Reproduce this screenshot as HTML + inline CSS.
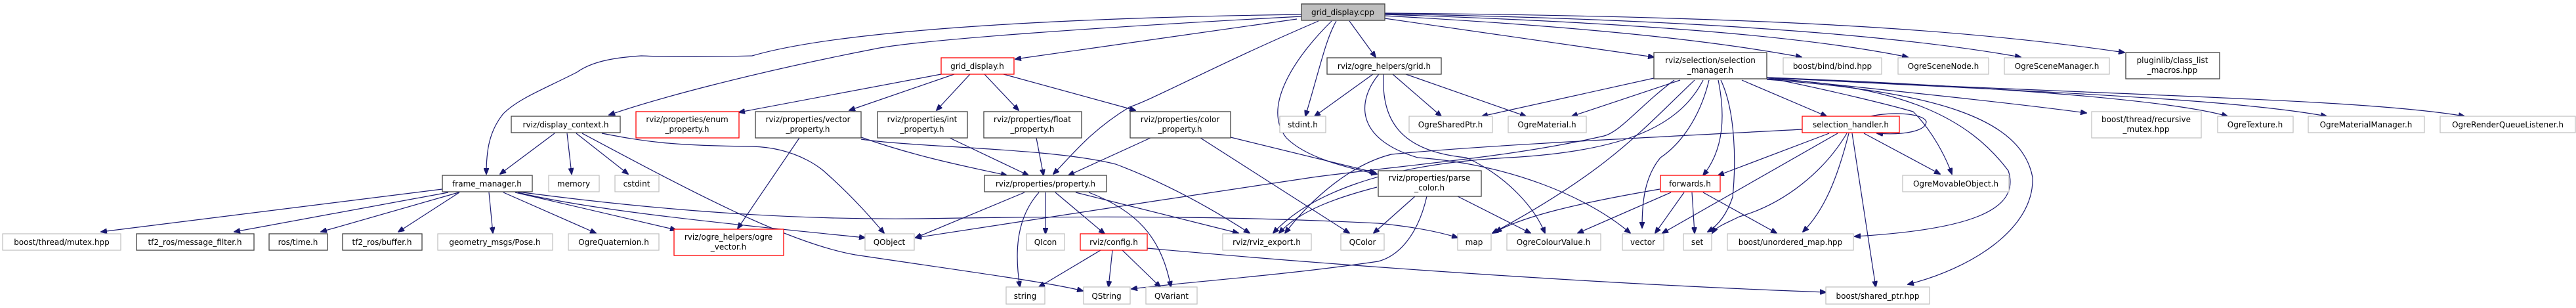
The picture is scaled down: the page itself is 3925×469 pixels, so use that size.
<!DOCTYPE html>
<html><head><meta charset="utf-8">
<style>
html,body{margin:0;padding:0;background:#fff;}
svg{display:block;}
text{font-family:"DejaVu Sans","Liberation Sans",sans-serif;font-size:12px;fill:#000;text-anchor:middle;}
.e{fill:none;stroke:#191970;stroke-width:1.2;marker-end:url(#a);}
.g{fill:#fff;stroke:#bfbfbf;stroke-width:1.2;}
.b{fill:#fff;stroke:#404040;stroke-width:1.3;}
.r{fill:#fff;stroke:#ff0000;stroke-width:1.3;}
</style></head><body>
<svg width="3925" height="469" viewBox="0 0 3925 469" xmlns="http://www.w3.org/2000/svg">
<defs>
<marker id="a" markerWidth="10" markerHeight="8" refX="9" refY="4" orient="auto" markerUnits="userSpaceOnUse">
<path d="M0,0 L10,4 L0,8 z" fill="#191970" stroke="#191970"/>
</marker>
</defs>

<!-- edges from grid_display.cpp -->
<path class="e" d="M1983,22 C1700,26 1300,40 1146,85 C1050,88 977,85 977,85 C930,88 900,95 879,110 C830,135 790,150 767,173 C745,200 741,230 741,265"/>
<path class="e" d="M1983,25 C1700,40 1400,60 1330,75 C1150,110 1000,150 928,175"/>
<path class="e" d="M1976,29 L1547,90"/>
<path class="e" d="M2009,32 C1850,100 1760,150 1721,163 C1660,200 1630,240 1605,265"/>
<path class="e" d="M2036,32 C2020,60 2012,100 1989,177"/>
<path class="e" d="M2056,32 L2096,87"/>
<path class="e" d="M2029,32 C1980,80 1920,160 1960,210 C1990,240 2050,255 2098,265"/>
<path class="e" d="M2110,28 L2520,87"/>
<path class="e" d="M2110,24 C2400,40 2600,60 2745,87"/>
<path class="e" d="M2110,22 C2500,35 2750,55 2907,87"/>
<path class="e" d="M2110,21 C2600,30 2900,55 3079,87"/>
<path class="e" d="M2110,20 C2700,25 3000,45 3237,80"/>

<!-- grid_display.h -->
<path class="e" d="M1434,113 L1126,171"/>
<path class="e" d="M1454,113 L1294,168"/>
<path class="e" d="M1478,113 L1427,168"/>
<path class="e" d="M1500,113 L1552,168"/>
<path class="e" d="M1529,113 L1730,168"/>

<!-- display_context.h -->
<path class="e" d="M845,203 L762,265"/>
<path class="e" d="M864,203 L871,265"/>
<path class="e" d="M878,203 L957,265"/>
<path class="e" d="M917,203 C980,215 1020,222 1146,223 C1220,225 1258,263 1258,263 C1300,300 1330,335 1347,355"/>
<path class="e" d="M887,203 C1050,290 1200,370 1303,388 C1450,410 1600,430 1650,443"/>

<!-- vector_property.h -->
<path class="e" d="M1218,210 L1124,348"/>
<path class="e" d="M1312,209 C1400,240 1480,255 1534,267"/>
<path class="e" d="M1312,212 C1400,225 1600,225 1700,250 C1780,280 1850,320 1904,355"/>
<!-- int / float / color -->
<path class="e" d="M1447,210 L1567,267"/>
<path class="e" d="M1579,210 L1590,267"/>
<path class="e" d="M1753,210 L1628,267"/>
<path class="e" d="M1829,210 L2056,355"/>
<path class="e" d="M1875,209 L2096,263"/>

<!-- property.h -->
<path class="e" d="M1561,293 L1395,362"/>
<path class="e" d="M1583,293 C1550,330 1545,380 1554,437"/>
<path class="e" d="M1593,293 L1593,356"/>
<path class="e" d="M1608,293 L1683,356"/>
<path class="e" d="M1659,293 C1730,320 1770,360 1784,437"/>
<path class="e" d="M1639,293 L1887,355"/>

<!-- config.h -->
<path class="e" d="M1677,381 L1583,437"/>
<path class="e" d="M1695,381 L1689,437"/>
<path class="e" d="M1710,381 L1768,437"/>
<path class="e" d="M1748,378 C2100,410 2500,435 2782,445"/>

<!-- frame_manager.h -->
<path class="e" d="M674,288 L154,353"/>
<path class="e" d="M683,293 L357,353"/>
<path class="e" d="M699,293 L489,353"/>
<path class="e" d="M700,293 L607,353"/>
<path class="e" d="M745,293 L751,355"/>
<path class="e" d="M767,293 L908,355"/>
<path class="e" d="M785,293 L1030,350"/>
<path class="e" d="M789,293 C900,320 1100,340 1318,362"/>
<path class="e" d="M789,292 C1000,320 1200,335 1400,333 C1700,328 1900,330 2100,340 C2150,345 2190,352 2221,362"/>

<!-- grid.h -->
<path class="e" d="M2092,113 L2003,177"/>
<path class="e" d="M2122,113 L2196,177"/>
<path class="e" d="M2142,113 L2325,177"/>
<path class="e" d="M2108,113 C2105,180 2130,230 2234,240 C2300,270 2340,320 2354,355"/>
<path class="e" d="M2101,113 C2070,150 2060,210 2160,240 C2300,250 2420,300 2484,355"/>

<!-- parse_color.h -->
<path class="e" d="M2156,299 L2093,355"/>
<path class="e" d="M2174,299 C2160,360 2130,390 2100,398 C1950,420 1800,430 1724,440"/>
<path class="e" d="M2221,299 L2332,355"/>
<path class="e" d="M2098,285 C2040,300 1980,320 1949,355"/>

<!-- selection_manager.h -->
<path class="e" d="M2520,119 L2258,177"/>
<path class="e" d="M2560,122 L2395,177"/>
<path class="e" d="M2582,122 C2500,200 2450,260 2274,355"/>
<path class="e" d="M2551,122 C2500,160 2470,200 2444,207 C2300,240 2150,250 2000,270 C1800,300 1500,345 1395,362"/>
<path class="e" d="M2595,122 C2560,190 2480,230 2300,240 C2100,250 1990,300 1940,355"/>
<path class="e" d="M2604,122 C2590,180 2560,220 2530,240 C2505,270 2502,310 2502,347"/>
<path class="e" d="M2618,122 C2630,180 2625,230 2595,267"/>
<path class="e" d="M2622,122 C2645,170 2645,250 2640,300 C2630,330 2615,345 2602,353"/>
<path class="e" d="M2654,122 L2783,177"/>
<path class="e" d="M2692,118 C2800,140 2880,160 2915,170 C2945,200 2965,240 2974,265"/>
<path class="e" d="M2692,120 C2900,130 3000,180 3060,260 C3080,320 3000,350 2826,360"/>
<path class="e" d="M2692,121 C2950,140 3080,180 3097,270 C3100,350 3000,410 2907,433"/>
<path class="e" d="M2692,118 C2900,140 3050,155 3179,172"/>
<path class="e" d="M2692,118 C3000,130 3300,150 3394,177"/>
<path class="e" d="M2692,118 C3100,140 3400,150 3545,177"/>
<path class="e" d="M2692,118 C3200,145 3600,150 3755,177"/>

<!-- selection_handler.h -->
<path class="e" d="M2850,177 C2880,170 2930,172 2935,185 C2935,200 2900,206 2860,203"/>
<path class="e" d="M2787,203 L2618,267"/>
<path class="e" d="M2800,203 L2533,355"/>
<path class="e" d="M2814,203 C2780,260 2720,310 2650,330 C2630,340 2615,345 2609,355"/>
<path class="e" d="M2817,203 C2800,270 2780,320 2747,353"/>
<path class="e" d="M2822,203 L2858,437"/>
<path class="e" d="M2840,203 L2956,265"/>
<path class="e" d="M2746,197 C2500,210 2250,222 2120,235 C2060,250 2000,300 1958,355"/>

<!-- forwards.h -->
<path class="e" d="M2529,288 C2400,310 2320,330 2279,353"/>
<path class="e" d="M2546,293 L2404,355"/>
<path class="e" d="M2566,293 L2522,355"/>
<path class="e" d="M2578,293 L2582,355"/>
<path class="e" d="M2595,293 L2707,355"/>

<!-- nodes -->
<rect x="1983" y="6" width="127" height="25" fill="#bfbfbf" stroke="#404040" stroke-width="1.3"/><text x="2046" y="23">grid_display.cpp</text>

<rect class="r" x="1434" y="88" width="111" height="25"/><text x="1489" y="105">grid_display.h</text>
<rect class="b" x="2022" y="88" width="174" height="25"/><text x="2109" y="105">rviz/ogre_helpers/grid.h</text>
<rect class="b" x="2520" y="80" width="172" height="40"/><text x="2606" y="96">rviz/selection/selection</text><text x="2606" y="111">_manager.h</text>
<rect class="g" x="2717" y="88" width="150" height="25"/><text x="2792" y="105">boost/bind/bind.hpp</text>
<rect class="g" x="2892" y="88" width="138" height="25"/><text x="2961" y="105">OgreSceneNode.h</text>
<rect class="g" x="3054" y="88" width="160" height="25"/><text x="3134" y="105">OgreSceneManager.h</text>
<rect class="b" x="3239" y="80" width="143" height="40"/><text x="3310" y="96">pluginlib/class_list</text><text x="3310" y="111">_macros.hpp</text>

<rect class="b" x="779" y="177" width="166" height="25"/><text x="862" y="194">rviz/display_context.h</text>
<rect class="r" x="969" y="170" width="157" height="40"/><text x="1047" y="186">rviz/properties/enum</text><text x="1047" y="201">_property.h</text>
<rect class="b" x="1151" y="170" width="161" height="40"/><text x="1231" y="186">rviz/properties/vector</text><text x="1231" y="201">_property.h</text>
<rect class="b" x="1337" y="170" width="137" height="40"/><text x="1405" y="186">rviz/properties/int</text><text x="1405" y="201">_property.h</text>
<rect class="b" x="1499" y="170" width="149" height="40"/><text x="1573" y="186">rviz/properties/float</text><text x="1573" y="201">_property.h</text>
<rect class="b" x="1722" y="170" width="153" height="40"/><text x="1798" y="186">rviz/properties/color</text><text x="1798" y="201">_property.h</text>
<rect class="g" x="1950" y="177" width="70" height="25"/><text x="1985" y="194">stdint.h</text>
<rect class="g" x="2147" y="177" width="127" height="25"/><text x="2210" y="194">OgreSharedPtr.h</text>
<rect class="g" x="2298" y="177" width="119" height="25"/><text x="2357" y="194">OgreMaterial.h</text>
<rect class="r" x="2746" y="177" width="148" height="25"/><text x="2820" y="194">selection_handler.h</text>
<rect class="g" x="3187" y="170" width="167" height="40"/><text x="3270" y="186">boost/thread/recursive</text><text x="3270" y="201">_mutex.hpp</text>
<rect class="g" x="3379" y="177" width="115" height="25"/><text x="3436" y="194">OgreTexture.h</text>
<rect class="g" x="3517" y="177" width="177" height="25"/><text x="3605" y="194">OgreMaterialManager.h</text>
<rect class="g" x="3718" y="177" width="206" height="25"/><text x="3821" y="194">OgreRenderQueueListener.h</text>

<rect class="b" x="674" y="267" width="137" height="25"/><text x="742" y="284">frame_manager.h</text>
<rect class="g" x="836" y="267" width="77" height="25"/><text x="874" y="284">memory</text>
<rect class="g" x="937" y="267" width="67" height="25"/><text x="970" y="284">cstdint</text>
<rect class="b" x="1500" y="267" width="186" height="25"/><text x="1593" y="284">rviz/properties/property.h</text>
<rect class="b" x="2100" y="260" width="157" height="39"/><text x="2178" y="275">rviz/properties/parse</text><text x="2178" y="290">_color.h</text>
<rect class="r" x="2530" y="267" width="91" height="25"/><text x="2575" y="284">forwards.h</text>
<rect class="g" x="2899" y="267" width="162" height="25"/><text x="2980" y="284">OgreMovableObject.h</text>

<rect class="g" x="4" y="356" width="180" height="25"/><text x="94" y="373">boost/thread/mutex.hpp</text>
<rect class="b" x="208" y="356" width="179" height="25"/><text x="297" y="373">tf2_ros/message_filter.h</text>
<rect class="b" x="410" y="356" width="89" height="25"/><text x="454" y="373">ros/time.h</text>
<rect class="b" x="522" y="356" width="121" height="25"/><text x="582" y="373">tf2_ros/buffer.h</text>
<rect class="g" x="667" y="356" width="175" height="25"/><text x="754" y="373">geometry_msgs/Pose.h</text>
<rect class="g" x="866" y="356" width="138" height="25"/><text x="935" y="373">OgreQuaternion.h</text>
<rect class="r" x="1027" y="349" width="167" height="40"/><text x="1110" y="365">rviz/ogre_helpers/ogre</text><text x="1110" y="380">_vector.h</text>
<rect class="g" x="1318" y="356" width="75" height="25"/><text x="1355" y="373">QObject</text>
<rect class="g" x="1564" y="356" width="58" height="25"/><text x="1593" y="373">QIcon</text>
<rect class="r" x="1646" y="356" width="102" height="25"/><text x="1697" y="373">rviz/config.h</text>
<rect class="g" x="1863" y="356" width="135" height="25"/><text x="1930" y="373">rviz/rviz_export.h</text>
<rect class="g" x="2043" y="356" width="66" height="25"/><text x="2076" y="373">QColor</text>
<rect class="g" x="2221" y="356" width="51" height="25"/><text x="2246" y="373">map</text>
<rect class="g" x="2296" y="356" width="143" height="25"/><text x="2367" y="373">OgreColourValue.h</text>
<rect class="g" x="2472" y="356" width="63" height="25"/><text x="2503" y="373">vector</text>
<rect class="g" x="2565" y="356" width="43" height="25"/><text x="2586" y="373">set</text>
<rect class="g" x="2632" y="356" width="192" height="25"/><text x="2728" y="373">boost/unordered_map.hpp</text>

<rect class="g" x="1533" y="437" width="59" height="26"/><text x="1562" y="455">string</text>
<rect class="g" x="1651" y="437" width="71" height="26"/><text x="1686" y="455">QString</text>
<rect class="g" x="1746" y="437" width="78" height="26"/><text x="1785" y="455">QVariant</text>
<rect class="g" x="2782" y="437" width="158" height="26"/><text x="2861" y="455">boost/shared_ptr.hpp</text>
</svg>
</body></html>
